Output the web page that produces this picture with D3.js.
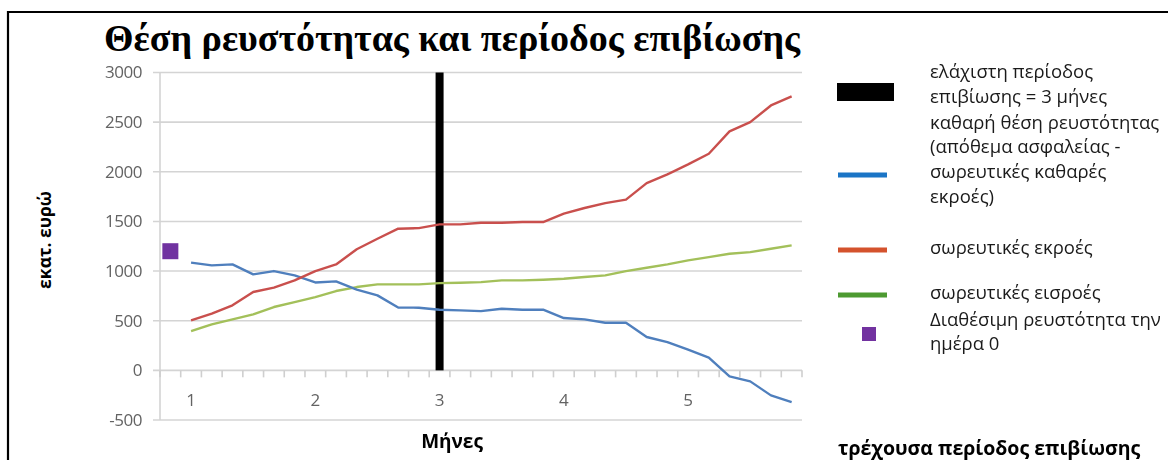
<!DOCTYPE html>
<html>
<head>
<meta charset="utf-8">
<script src="https://cdn.jsdelivr.net/npm/d3@7/dist/d3.min.js"></script>
<style>
  html, body { margin: 0; padding: 0; background: #fff; }
  svg { display: block; }
</style>
</head>
<body>
<svg id="chart" width="1168" height="460"></svg>
<script>
// Periods: index 0 is day 0, then 30 sub-periods spread over five months
const periods = d3.range(31);
const periodLabels = ["", "1", "", "", "", "", "", "2", "", "", "", "", "", "3", "", "", "", "", "", "4", "", "", "", "", "", "5", "", "", "", "", ""];

// Net liquidity position (buffer minus cumulative net outflows)
const netPosition = [null, 1085, 1057, 1067, 967, 1000, 957, 885, 896, 813, 755, 633, 631, 611, 604, 597, 621, 611, 611, 527, 514, 480, 480, 336, 285, 208, 128, -60, -111, -252, -319];
// Cumulative outflows
const cumOutflows = [null, 503, 571, 655, 789, 833, 906, 1000, 1067, 1220, 1326, 1427, 1433, 1470, 1470, 1487, 1487, 1494, 1494, 1578, 1635, 1685, 1719, 1886, 1974, 2074, 2182, 2407, 2500, 2668, 2759];
// Cumulative inflows
const cumInflows = [null, 396, 463, 513, 564, 638, 688, 738, 799, 839, 866, 866, 866, 879, 882, 889, 906, 906, 913, 923, 940, 957, 1000, 1034, 1067, 1108, 1141, 1175, 1191, 1225, 1259];
// Available liquidity on day 0
const dayZeroLiquidity = [{ period: 0, value: 1200 }];
// Minimum survival period marker (3 months)
const minSurvivalPeriod = 13;
const minSurvivalValue = 3000;

const yTicks = [3000, 2500, 2000, 1500, 1000, 500, 0, -500];

const svg = d3.select("#chart");

// Blur filter for the soft plot rendering
const defs = svg.append("defs");
defs.append("filter").attr("id", "soft")
  .attr("x", "-5%").attr("y", "-5%").attr("width", "110%").attr("height", "110%")
  .append("feGaussianBlur").attr("stdDeviation", 0.6);

// Outer frame
svg.append("path")
  .attr("d", "M8,470 L8,12 L1180,12")
  .attr("fill", "none").attr("stroke", "#000").attr("stroke-width", 2.2);

// Title
svg.append("text")
  .attr("x", 452).attr("y", 51)
  .attr("text-anchor", "middle")
  .attr("font-family", "Liberation Serif, serif")
  .attr("font-weight", "bold")
  .attr("font-size", 38)
  .attr("fill", "#000")
  .text("Θέση ρευστότητας και περίοδος επιβίωσης");

const x = d3.scaleBand().domain(periods).range([160, 802]);
const cx = i => x(i) + x.bandwidth() / 2;
const y = d3.scaleLinear().domain([-500, 3000]).range([420, 72.5]);

const plot = svg.append("g").attr("filter", "url(#soft)");

// Horizontal gridlines
plot.append("g").selectAll("line").data(yTicks).join("line")
  .attr("x1", 153).attr("x2", 802)
  .attr("y1", d => y(d)).attr("y2", d => y(d))
  .attr("stroke", "#d4d4d4").attr("stroke-width", 1.6);

// Vertical value axis line
plot.append("line")
  .attr("x1", 160).attr("x2", 160)
  .attr("y1", y(3000)).attr("y2", y(-500))
  .attr("stroke", "#d4d4d4").attr("stroke-width", 1.6);

// Value axis labels
const yAxis = d3.axisLeft(y).tickValues(yTicks).tickSize(0).tickPadding(18)
  .tickFormat(d => String(d));
const yAxisG = plot.append("g").attr("transform", "translate(160,0)").call(yAxis);
yAxisG.select(".domain").remove();
yAxisG.selectAll("text")
  .attr("font-family", "Open Sans, sans-serif")
  .attr("font-size", 17)
  .attr("fill", "#636363")
  .attr("letter-spacing", -0.5);

// Category axis on the zero line: tick marks between periods
const bounds = periods.map(i => x(i)).concat([x(30) + x.bandwidth()]);
plot.append("g").selectAll("line").data(bounds).join("line")
  .attr("x1", d => d).attr("x2", d => d)
  .attr("y1", y(0)).attr("y2", y(0) + 7)
  .attr("stroke", "#cfcfcf").attr("stroke-width", 1.6);

plot.append("g").selectAll("text").data(periods).join("text")
  .attr("x", d => cx(d)).attr("y", 406)
  .attr("text-anchor", "middle")
  .attr("font-family", "Open Sans, sans-serif")
  .attr("font-size", 17)
  .attr("fill", "#636363")
  .text(d => periodLabels[d]);

// Minimum survival period bar
plot.append("rect")
  .attr("x", cx(minSurvivalPeriod) - 4)
  .attr("y", y(minSurvivalValue))
  .attr("width", 8)
  .attr("height", y(0) - y(minSurvivalValue))
  .attr("fill", "#000");

const line = d3.line()
  .defined(d => d != null)
  .x((d, i) => cx(i))
  .y(d => y(d));

const seriesList = [
  { values: cumInflows, color: "#a3c05a" },
  { values: netPosition, color: "#4f7fbd" },
  { values: cumOutflows, color: "#c9504d" }
];
plot.append("g").selectAll("path").data(seriesList).join("path")
  .attr("d", d => line(d.values))
  .attr("fill", "none")
  .attr("stroke", d => d.color)
  .attr("stroke-width", 2.4)
  .attr("stroke-linejoin", "round");

// Day-0 liquidity marker
plot.append("g").selectAll("rect").data(dayZeroLiquidity).join("rect")
  .attr("x", d => cx(d.period) - 8)
  .attr("y", d => y(d.value) - 8)
  .attr("width", 16).attr("height", 16)
  .attr("fill", "#7030a0");

// Axis titles
svg.append("text")
  .attr("transform", "translate(51,240) rotate(-90)")
  .attr("text-anchor", "middle")
  .attr("font-family", "Open Sans, sans-serif")
  .attr("font-weight", "bold")
  .attr("font-size", 17.5)
  .attr("fill", "#000")
  .text("εκατ. ευρώ");

svg.append("text")
  .attr("x", 452).attr("y", 448)
  .attr("text-anchor", "middle")
  .attr("font-family", "Open Sans, sans-serif")
  .attr("font-weight", "bold")
  .attr("font-size", 19)
  .attr("fill", "#000")
  .text("Μήνες");

// Legend
const legend = svg.append("g")
  .attr("font-family", "Open Sans, sans-serif")
  .attr("font-size", 18.5)
  .attr("fill", "#1a1a1a");

const legendItems = [
  { kind: "bar", color: "#000", symY: 92, lines: ["ελάχιστη περίοδος", "επιβίωσης = 3 μήνες"], textY: 78 },
  { kind: "line", color: "#1b75c6", symY: 175, lines: ["καθαρή θέση ρευστότητας", "(απόθεμα ασφαλείας -", "σωρευτικές καθαρές", "εκροές)"], textY: 128.5 },
  { kind: "line", color: "#d4522d", symY: 250, lines: ["σωρευτικές εκροές"], textY: 254 },
  { kind: "line", color: "#4d9a31", symY: 295, lines: ["σωρευτικές εισροές"], textY: 299 },
  { kind: "square", color: "#7232a0", symY: 334, lines: ["Διαθέσιμη ρευστότητα την", "ημέρα 0"], textY: 325.5 }
];

legendItems.forEach(item => {
  if (item.kind === "bar") {
    legend.append("rect").attr("x", 837).attr("y", item.symY - 9)
      .attr("width", 57).attr("height", 18).attr("fill", item.color);
  } else if (item.kind === "line") {
    legend.append("line").attr("x1", 838).attr("x2", 887)
      .attr("y1", item.symY).attr("y2", item.symY)
      .attr("stroke", item.color).attr("stroke-width", 5);
  } else {
    legend.append("rect").attr("x", 862).attr("y", item.symY - 7)
      .attr("width", 14).attr("height", 14).attr("fill", item.color);
  }
  item.lines.forEach((t, k) => {
    legend.append("text")
      .attr("x", 930).attr("y", item.textY + k * 24.8)
      .text(t);
  });
});

svg.append("text")
  .attr("x", 838).attr("y", 455)
  .attr("font-family", "Open Sans, sans-serif")
  .attr("font-weight", "bold")
  .attr("font-size", 19.5)
  .attr("fill", "#000")
  .text("τρέχουσα περίοδος επιβίωσης");
</script>
</body>
</html>
